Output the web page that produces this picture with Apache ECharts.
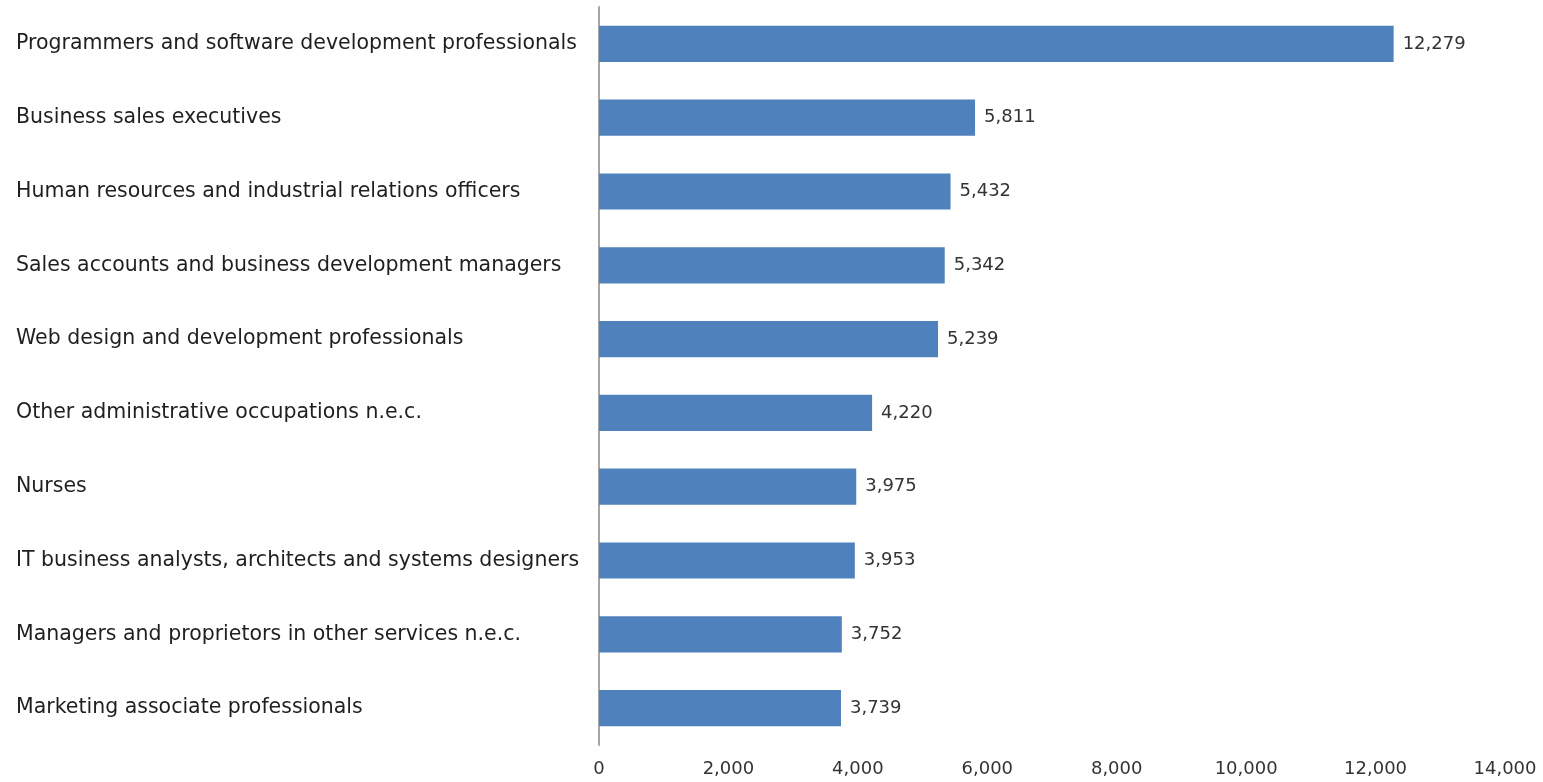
<!DOCTYPE html>
<html>
<head>
<meta charset="utf-8">
<script src="https://cdn.jsdelivr.net/npm/echarts@6/dist/echarts.min.js"></script>
<style>
  html, body { margin: 0; padding: 0; background: #ffffff; }
  #chart { width: 1543px; height: 782px; }
</style>
</head>
<body>
<div id="chart"></div>
<script>
// Occupations, listed top to bottom
const occupations = [
  'Programmers and software development professionals',
  'Business sales executives',
  'Human resources and industrial relations officers',
  'Sales accounts and business development managers',
  'Web design and development professionals',
  'Other administrative occupations n.e.c.',
  'Nurses',
  'IT business analysts, architects and systems designers',
  'Managers and proprietors in other services n.e.c.',
  'Marketing associate professionals'
];
// Count for each occupation
const counts = [12279, 5811, 5432, 5342, 5239, 4220, 3975, 3953, 3752, 3739];
// Value axis range and step
const axisMin = 0;
const axisMax = 14000;
const axisStep = 2000;

const chart = echarts.init(document.getElementById('chart'));
const fontFamily = '"DejaVu Sans", "Liberation Sans", Arial, sans-serif';

chart.setOption({
  animation: false,
  backgroundColor: '#ffffff',
  grid: { left: 599, right: 38, top: 7, bottom: 37, containLabel: false },
  xAxis: {
    type: 'value',
    min: axisMin,
    max: axisMax,
    interval: axisStep,
    axisLine: { show: false },
    axisTick: { show: false },
    splitLine: { show: false },
    axisLabel: {
      margin: 15,
      color: '#333333',
      fontFamily: fontFamily,
      fontSize: 18,
      formatter: v => v.toLocaleString('en-US')
    }
  },
  yAxis: {
    type: 'category',
    inverse: true,
    data: occupations,
    axisLine: { show: true, lineStyle: { color: '#a6a6a6', width: 2 } },
    axisTick: { show: false },
    axisLabel: {
      align: 'left',
      margin: 583,
      color: '#1f1f1f',
      fontFamily: fontFamily,
      fontSize: 20.5
    }
  },
  series: [{
    type: 'bar',
    data: counts,
    barWidth: '49%',
    itemStyle: { color: '#4f81bd' },
    label: {
      show: true,
      position: 'right',
      distance: 9,
      color: '#333333',
      fontFamily: fontFamily,
      fontSize: 18,
      formatter: p => p.value.toLocaleString('en-US')
    }
  }]
});
</script>
</body>
</html>
